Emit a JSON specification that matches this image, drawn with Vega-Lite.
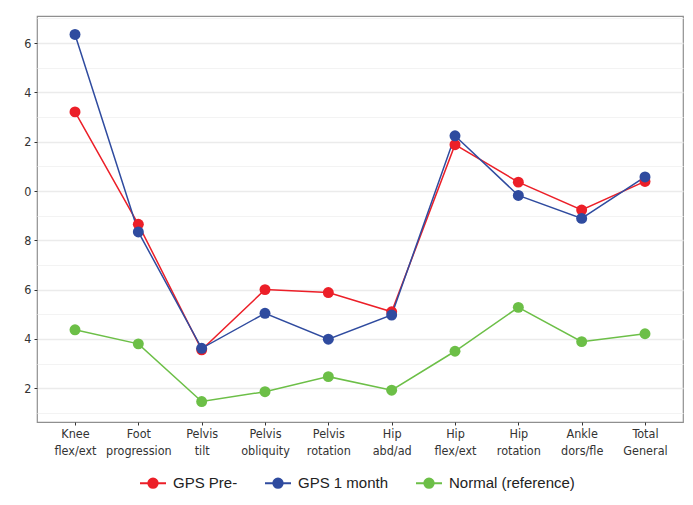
{
  "$schema": "https://vega.github.io/schema/vega-lite/v6.json",
  "autosize": "none",
  "width": 646,
  "height": 406,
  "padding": {"left": 37, "top": 16, "right": 10, "bottom": 83},
  "background": "white",
  "config": {
    "view": {"stroke": "#8f8f8f", "strokeWidth": 1.2},
    "font": "Liberation Sans"
  },
  "data": {
    "values": [
      {"joint": "Knee flex/ext", "group": "GPS Pre-", "value": 13.21},
      {"joint": "Foot progression", "group": "GPS Pre-", "value": 8.65},
      {"joint": "Pelvis tilt", "group": "GPS Pre-", "value": 3.56},
      {"joint": "Pelvis obliquity", "group": "GPS Pre-", "value": 6.0},
      {"joint": "Pelvis rotation", "group": "GPS Pre-", "value": 5.88},
      {"joint": "Hip abd/ad", "group": "GPS Pre-", "value": 5.1},
      {"joint": "Hip flex/ext", "group": "GPS Pre-", "value": 11.88},
      {"joint": "Hip rotation", "group": "GPS Pre-", "value": 10.36},
      {"joint": "Ankle dors/fle", "group": "GPS Pre-", "value": 9.23},
      {"joint": "Total General", "group": "GPS Pre-", "value": 10.39},
      {"joint": "Knee flex/ext", "group": "GPS 1 month", "value": 16.35},
      {"joint": "Foot progression", "group": "GPS 1 month", "value": 8.34},
      {"joint": "Pelvis tilt", "group": "GPS 1 month", "value": 3.62},
      {"joint": "Pelvis obliquity", "group": "GPS 1 month", "value": 5.04},
      {"joint": "Pelvis rotation", "group": "GPS 1 month", "value": 3.99},
      {"joint": "Hip abd/ad", "group": "GPS 1 month", "value": 4.97},
      {"joint": "Hip flex/ext", "group": "GPS 1 month", "value": 12.24},
      {"joint": "Hip rotation", "group": "GPS 1 month", "value": 9.82},
      {"joint": "Ankle dors/fle", "group": "GPS 1 month", "value": 8.89},
      {"joint": "Total General", "group": "GPS 1 month", "value": 10.57},
      {"joint": "Knee flex/ext", "group": "Normal (reference)", "value": 4.37},
      {"joint": "Foot progression", "group": "Normal (reference)", "value": 3.8},
      {"joint": "Pelvis tilt", "group": "Normal (reference)", "value": 1.46},
      {"joint": "Pelvis obliquity", "group": "Normal (reference)", "value": 1.86},
      {"joint": "Pelvis rotation", "group": "Normal (reference)", "value": 2.47},
      {"joint": "Hip abd/ad", "group": "Normal (reference)", "value": 1.92},
      {"joint": "Hip flex/ext", "group": "Normal (reference)", "value": 3.5},
      {"joint": "Hip rotation", "group": "Normal (reference)", "value": 5.28},
      {"joint": "Ankle dors/fle", "group": "Normal (reference)", "value": 3.89},
      {"joint": "Total General", "group": "Normal (reference)", "value": 4.21}
    ]
  },
  "encoding": {
    "x": {
      "field": "joint",
      "type": "nominal",
      "sort": ["Knee flex/ext", "Foot progression", "Pelvis tilt", "Pelvis obliquity", "Pelvis rotation", "Hip abd/ad", "Hip flex/ext", "Hip rotation", "Ankle dors/fle", "Total General"],
      "scale": {"type": "point", "padding": 0.6},
      "axis": {
        "title": null,
        "labelAngle": 0,
        "labelExpr": "split(datum.label, ' ')",
        "labelFont": "DejaVu Sans Condensed, Liberation Sans",
        "labelFontSize": 12.5,
        "labelColor": "#333333",
        "labelLineHeight": 17,
        "labelPadding": 2,
        "tickSize": 3,
        "tickColor": "#333333",
        "domain": false,
        "grid": false
      }
    },
    "y": {
      "field": "value",
      "type": "quantitative",
      "scale": {"domain": [0.63, 17.1], "nice": false, "zero": false},
      "axis": {
        "title": null,
        "values": [1, 2, 3, 4, 5, 6, 7, 8, 9, 10, 11, 12, 13, 14, 15, 16, 17],
        "labelExpr": "datum.value % 2 == 0 ? '' + (datum.value % 10) : ''",
        "labelFont": "DejaVu Sans Condensed, Liberation Sans",
        "labelFontSize": 12.5,
        "labelColor": "#333333",
        "labelPadding": 3,
        "tickSize": 3,
        "tickColor": {"condition": {"test": "datum.value % 2 == 1", "value": "transparent"}, "value": "#333333"},
        "domain": false,
        "grid": true,
        "gridColor": {"condition": {"test": "datum.value % 2 == 1", "value": "#f3f3f3"}, "value": "#ebebeb"},
        "gridWidth": {"condition": {"test": "datum.value % 2 == 1", "value": 1}, "value": 1.5}
      }
    },
    "color": {
      "field": "group",
      "type": "nominal",
      "scale": {
        "domain": ["GPS Pre-", "GPS 1 month", "Normal (reference)"],
        "range": ["#ec1f28", "#2f4b9f", "#6cbf47"]
      },
      "legend": {
        "orient": "none",
        "legendX": 102,
        "legendY": 453,
        "direction": "horizontal",
        "title": null,
        "symbolType": "M-1,0L1,0M0.36,0A0.36,0.36,0,1,1,-0.36,0A0.36,0.36,0,1,1,0.36,0Z",
        "symbolSize": 676,
        "symbolStrokeWidth": 2,
        "labelFont": "Liberation Sans",
        "labelFontSize": 15,
        "labelColor": "#222222",
        "labelOffset": 6,
        "columnPadding": 23,
        "encode": {
          "symbols": {"update": {"stroke": {"scale": "color", "field": "value"}, "fill": {"scale": "color", "field": "value"}, "fillOpacity": {"value": 1}, "strokeOpacity": {"value": 1}}}
        }
      }
    }
  },
  "layer": [
    {"mark": {"type": "line", "strokeWidth": 1.5}},
    {"mark": {"type": "point", "filled": true, "size": 120, "opacity": 1}}
  ]
}
